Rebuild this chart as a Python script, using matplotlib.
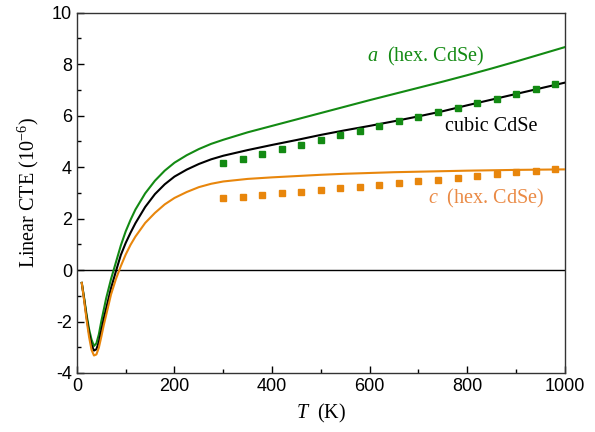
"""Linear CTE of CdSe versus temperature: calculated curves and measured points."""

import matplotlib
matplotlib.use("Agg")
import matplotlib.pyplot as plt
from matplotlib.ticker import MultipleLocator

SERIF = "Liberation Serif"
SANS = "Liberation Sans"

plt.rcParams["font.family"] = SANS
plt.rcParams["axes.unicode_minus"] = False
plt.rcParams["mathtext.fontset"] = "custom"
plt.rcParams["mathtext.rm"] = SERIF
plt.rcParams["mathtext.it"] = SERIF + ":italic"

# ---------------------------------------------------------------------------
# Data
# ---------------------------------------------------------------------------
temp_calc = [10, 15, 20, 25, 30, 35, 40, 45, 50, 55, 60, 70, 80, 90, 100,
             110, 120, 140, 160, 180, 200, 225, 250, 275, 300, 350, 400, 450,
             500, 550, 600, 650, 700, 750, 800, 850, 900, 950, 1000]

cte_a_hex = [-0.5, -1.1, -1.75, -2.3, -2.7, -2.95, -2.85, -2.5, -2.0, -1.55,
             -1.1, -0.35, 0.3, 0.95, 1.5, 1.95, 2.35, 2.98, 3.47, 3.86, 4.17,
             4.46, 4.7, 4.9, 5.06, 5.35, 5.6, 5.85, 6.1, 6.35, 6.6, 6.84,
             7.08, 7.32, 7.57, 7.83, 8.1, 8.38, 8.66]

cte_cubic = [-0.5, -1.15, -1.85, -2.45, -2.9, -3.13, -3.08, -2.8, -2.35,
             -1.9, -1.5, -0.7, -0.05, 0.58, 1.05, 1.45, 1.82, 2.45, 2.95,
             3.33, 3.63, 3.9, 4.12, 4.3, 4.44, 4.66, 4.86, 5.05, 5.25, 5.43,
             5.6, 5.78, 5.97, 6.17, 6.4, 6.62, 6.84, 7.06, 7.28]

cte_c_hex = [-0.5, -1.2, -1.95, -2.6, -3.1, -3.32, -3.28, -3.02, -2.6, -2.15,
             -1.75, -0.95, -0.35, 0.15, 0.6, 0.98, 1.3, 1.83, 2.22, 2.55,
             2.8, 3.03, 3.22, 3.35, 3.44, 3.54, 3.6, 3.65, 3.7, 3.74, 3.77,
             3.8, 3.82, 3.84, 3.86, 3.875, 3.89, 3.9, 3.91]

temp_exp = [300, 340, 380, 420, 460, 500, 540, 580, 620, 660, 700, 740,
            780, 820, 860, 900, 940, 980]

exp_a_hex = [4.15, 4.33, 4.50, 4.69, 4.87, 5.05, 5.23, 5.41, 5.59, 5.77,
             5.95, 6.12, 6.31, 6.48, 6.66, 6.84, 7.02, 7.21]

exp_c_hex = [2.78, 2.83, 2.91, 2.99, 3.04, 3.10, 3.17, 3.24, 3.31, 3.38,
             3.44, 3.50, 3.57, 3.66, 3.72, 3.79, 3.85, 3.92]

GREEN = "#138a13"
ORANGE = "#e8860c"
ORANGE_TEXT = "#ea8a45"

# ---------------------------------------------------------------------------
# Figure
# ---------------------------------------------------------------------------
fig = plt.figure(figsize=(5.95, 4.32), dpi=100)
ax = fig.add_axes([0.1292, 0.1366, 0.8202, 0.8342])

ax.axhline(0, color="black", linewidth=1.0, zorder=1)

ax.plot(temp_calc, cte_a_hex, color=GREEN, linewidth=1.5, zorder=3)
ax.plot(temp_calc, cte_cubic, color="black", linewidth=1.5, zorder=3)
ax.plot(temp_calc, cte_c_hex, color=ORANGE, linewidth=1.5, zorder=3)

ax.plot(temp_exp, exp_a_hex, linestyle="none", marker="s", markersize=3.7,
        color=GREEN, zorder=4)
ax.plot(temp_exp, exp_c_hex, linestyle="none", marker="s", markersize=3.7,
        color=ORANGE, zorder=4)

# --- labels on the curves ---------------------------------------------
ax.text(594, 8.31, r"$\it{a}$  (hex. CdSe)", color=GREEN, fontsize=14.5,
        family=SERIF, va="center", ha="left")
ax.text(754, 5.57, "cubic CdSe", color="black", fontsize=14.5,
        family=SERIF, va="center", ha="left")
ax.text(720, 2.78, r"$\it{c}$  (hex. CdSe)", color=ORANGE_TEXT,
        fontsize=14.5, family=SERIF, va="center", ha="left")

# --- axes ------------------------------------------------------------------
ax.set_xlim(0, 1000)
ax.set_ylim(-4, 10)
ax.xaxis.set_major_locator(MultipleLocator(200))
ax.xaxis.set_minor_locator(MultipleLocator(100))
ax.yaxis.set_major_locator(MultipleLocator(2))
ax.yaxis.set_minor_locator(MultipleLocator(1))
ax.tick_params(which="both", direction="in", top=False, right=False,
               width=1.0, labelsize=13)
ax.tick_params(which="major", length=5)
ax.tick_params(which="minor", length=3)
for spine in ax.spines.values():
    spine.set_linewidth(1.0)
    spine.set_color("#333333")

ax.set_xlabel(r"$\it{T}$  (K)", fontsize=14.5, family=SERIF, labelpad=5)
ax.set_ylabel(r"Linear CTE (10$^{-6}$)", fontsize=14.5, family=SERIF,
              labelpad=8)

fig.savefig("out.png", dpi=100)
